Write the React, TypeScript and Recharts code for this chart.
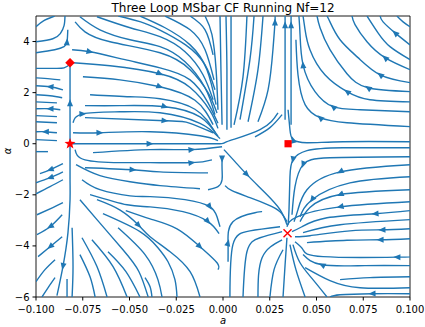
import { ComposedChart, Line, Scatter, XAxis, YAxis, ReferenceArea } from "recharts";

type Stream = { p: number[][]; ar: number[] };

// streamlines left of the a = -0.082 separatrix (flow goes left / down-left)
const LEFT: Stream[] = [
  { p: [[-0.1, 4.58], [-0.096, 4.81], [-0.09, 5.0]], ar: [] },
  { p: [[-0.1, 3.99], [-0.091, 4.11], [-0.087, 4.31], [-0.085, 4.62], [-0.0845, 5.0]], ar: [] },
  { p: [[-0.1, 3.56], [-0.09, 3.68], [-0.085, 3.8], [-0.0834, 3.99], [-0.083, 4.46]], ar: [3] },
  { p: [[-0.0818, 3.1], [-0.085, 2.97], [-0.09, 2.95], [-0.1, 2.95]], ar: [] },
  { p: [[-0.087, 2.5], [-0.0925, 2.54], [-0.1, 2.58]], ar: [] },
  { p: [[-0.0856, 2.11], [-0.0925, 2.23], [-0.1, 2.27]], ar: [1] },
  { p: [[-0.086, 1.8], [-0.0925, 1.88], [-0.1, 1.92]], ar: [] },
  { p: [[-0.0888, 1.6], [-0.1, 1.64]], ar: [] },
  { p: [[-0.087, 1.33], [-0.0925, 1.37], [-0.1, 1.37]], ar: [1] },
  { p: [[-0.0888, 1.06], [-0.1, 1.1]], ar: [] },
  { p: [[-0.0888, 0.82], [-0.1, 0.86]], ar: [] },
  { p: [[-0.0888, 0.43], [-0.095, 0.47], [-0.1, 0.47]], ar: [1] },
  { p: [[-0.0888, 0.12], [-0.1, 0.16]], ar: [] },
  { p: [[-0.0936, -0.31], [-0.1, -0.31]], ar: [] },
  { p: [[-0.0856, -0.78], [-0.0925, -1.02], [-0.0979, -1.17]], ar: [1] },
  { p: [[-0.0856, -1.1], [-0.0925, -1.33], [-0.1, -1.53]], ar: [1] },
  { p: [[-0.0856, -1.41], [-0.0925, -1.68], [-0.1, -1.96]], ar: [] },
  { p: [[-0.0856, -2.31], [-0.091, -2.5], [-0.0995, -2.78]], ar: [] },
  { p: [[-0.086, -2.78], [-0.0925, -3.25], [-0.0995, -3.56]], ar: [1] },
  { p: [[-0.086, -3.64], [-0.0925, -4.03], [-0.0989, -4.42]], ar: [1] },
  { p: [[-0.0898, -4.54], [-0.0952, -4.93], [-0.1, -5.4]], ar: [] },
  { p: [[-0.0898, -5.24], [-0.0936, -5.64], [-0.0968, -6]], ar: [] },
];

// the separatrix itself and its neighbours
const SEPARATRIX: Stream[] = [
  { p: [[-0.0818, 0], [-0.0818, 0.9], [-0.0818, 1.6], [-0.0818, 2.4], [-0.0818, 3.1]], ar: [2] },
  { p: [[-0.0818, 0], [-0.0818, -1.41], [-0.0818, -2.19], [-0.0829, -3.48], [-0.0856, -4.81], [-0.0888, -5.95]], ar: [4] },
  { p: [[-0.0807, -3.29], [-0.0802, -4.81], [-0.0807, -6]], ar: [] },
  { p: [[-0.0834, -5.3], [-0.0834, -6]], ar: [] },
];

// upper middle: lines sweeping into the origin
const UPPER: Stream[] = [
  { p: [[-0.056, 5], [-0.044, 4.77], [-0.034, 4.46], [-0.02, 3.87], [-0.0096, 3.09], [-0.0043, 2.11]], ar: [] },
  { p: [[-0.0674, 4.97], [-0.0497, 4.54], [-0.0337, 4.19], [-0.0203, 3.6], [-0.0107, 2.7], [-0.0053, 1.72]], ar: [] },
  { p: [[-0.0765, 4.97], [-0.0658, 4.46], [-0.0497, 4.07], [-0.0337, 3.8], [-0.0203, 3.21], [-0.0096, 2.19], [-0.0043, 1.14]], ar: [] },
  { p: [[-0.0791, 4.77], [-0.0738, 4.38], [-0.0604, 3.99], [-0.0337, 3.56], [-0.0176, 2.9], [-0.008, 2.0], [-0.0032, 1.2]], ar: [] },
  { p: [[-0.0444, 5], [-0.031, 4.54], [-0.0176, 3.87], [-0.0086, 2.9], [-0.0037, 1.53]], ar: [] },
  { p: [[-0.031, 5], [-0.0176, 4.46], [-0.0096, 3.68], [-0.0048, 2.5]], ar: [] },
  { p: [[-0.0176, 5], [-0.0096, 4.46], [-0.0053, 3.48]], ar: [] },
  { p: [[-0.0096, 5], [-0.0059, 4.27], [-0.0037, 2.9], [-0.0027, 1.33]], ar: [] },
  { p: [[-0.0807, 3.68], [-0.0711, 3.6], [-0.0524, 3.29], [-0.0337, 2.97], [-0.0176, 2.5], [-0.008, 1.6], [-0.0027, 0.8]], ar: [1] },
  { p: [[-0.0802, 3.17], [-0.0604, 3.05], [-0.0337, 2.74], [-0.0176, 2.2], [-0.007, 1.3], [-0.0027, 0.6]], ar: [2] },
  { p: [[-0.0749, 2.62], [-0.0551, 2.5], [-0.0337, 2.23], [-0.015, 1.7], [-0.0053, 0.75]], ar: [2] },
  { p: [[-0.0711, 1.92], [-0.0497, 1.84], [-0.0337, 1.76], [-0.015, 1.35], [-0.0043, 0.45]], ar: [] },
  { p: [[-0.0738, 1.49], [-0.0551, 1.49], [-0.031, 1.45], [-0.0123, 1.05], [-0.0027, 0.3]], ar: [2] },
  { p: [[-0.0802, 0.82], [-0.0749, 1.17], [-0.0551, 1.25], [-0.0337, 1.21], [-0.0123, 0.8], [-0.0016, 0.2]], ar: [1] },
  { p: [[-0.0738, 1.02], [-0.031, 0.9], [-0.0176, 0.8], [-0.0053, 0.43]], ar: [1] },
  { p: [[-0.0802, 0.43], [-0.0658, 0.43], [-0.039, 0.47], [-0.0123, 0.31], [-0.0027, 0.12]], ar: [1] },
  { p: [[-0.0818, 0], [-0.039, 0], [-0.0043, 0], [0.0021, 0.08], [0.0198, 0.55], [0.0294, 1.21]], ar: [1] },
  { p: [[-0.0695, -0.35], [-0.039, -0.23], [-0.0166, -0.23], [-0.0005, -0.12]], ar: [2] },
  { p: [[-0.0791, -0.23], [-0.0738, -0.63], [-0.0551, -0.74], [-0.039, -0.74], [-0.0166, -0.74], [-0.0059, -0.63]], ar: [4] },
  { p: [[-0.0738, -0.94], [-0.0481, -1.02], [-0.0337, -1.1], [-0.008, -1.14]], ar: [1] },
  { p: [[-0.0786, -0.82], [-0.0658, -1.25], [-0.0497, -1.49], [-0.0337, -1.64], [-0.0123, -1.76]], ar: [] },
];

// lines rising from the origin to the top edge
const RISING: Stream[] = [
  { p: [[-0.0005, 0.74], [-0.0011, 2.9], [-0.0016, 5]], ar: [] },
  { p: [[0.0021, 0.55], [0.0021, 2.9], [0.0016, 5]], ar: [] },
  { p: [[0.0043, 0.63], [0.0043, 3.29], [0.0043, 5]], ar: [] },
  { p: [[0.0059, 0.74], [0.0107, 2.62], [0.0128, 5]], ar: [] },
  { p: [[0.0091, 0.94], [0.0144, 3.29], [0.0166, 5]], ar: [] },
  { p: [[0.0134, 0.86], [0.0187, 2.9], [0.0214, 5]], ar: [] },
  { p: [[0.0187, 0.86], [0.0241, 2.11], [0.0267, 3.68], [0.0278, 4.77], [0.0278, 5]], ar: [3] },
  { p: [[0.0332, 0.94], [0.0332, 3.29], [0.0332, 4.66], [0.0332, 5]], ar: [2] },
  { p: [[0.0364, 0.74], [0.0364, 3.29], [0.0364, 4.66], [0.0364, 5]], ar: [2] },
  { p: [[0.0171, 0.27], [0.0251, 0.63], [0.0316, 1.14]], ar: [] },
];

// below the origin
const LOWER: Stream[] = [
  { p: [[-0.0005, -0.6], [-0.0005, -1.0], [-0.0005, -1.41], [-0.0027, -1.68], [-0.008, -1.8]], ar: [0] },
  { p: [[0.0011, -1.64], [0.0048, -1.84], [0.0144, -2.11], [0.0241, -2.39], [0.0305, -2.66], [0.0342, -3.05]], ar: [] },
  { p: [[0.0005, -0.23], [0.0064, -0.7], [0.0128, -1.21], [0.0225, -1.92], [0.0305, -2.58], [0.0342, -3.17]], ar: [2] },
  { p: [[-0.0754, -1.41], [-0.0658, -1.8], [-0.0497, -2.04], [-0.039, -2.07], [-0.0203, -2.19], [-0.007, -2.47], [-0.0032, -2.86], [-0.0016, -3.25]], ar: [5] },
  { p: [[-0.0711, -1.99], [-0.0513, -2.39], [-0.039, -2.47], [-0.0214, -2.66], [-0.008, -3.05], [-0.0021, -3.52]], ar: [4] },
  { p: [[-0.052, -2.62], [-0.039, -2.94], [-0.0246, -3.33], [-0.0123, -4.03], [-0.0032, -4.66], [-0.0027, -4.93]], ar: [3] },
  { p: [[-0.0674, -2.19], [-0.055, -2.6], [-0.045, -3.2], [-0.039, -3.64], [-0.0283, -4.23], [-0.0176, -5.01], [-0.0123, -6]], ar: [2] },
  { p: [[-0.0642, -2.74], [-0.0444, -3.44], [-0.0348, -4.07], [-0.0294, -4.62], [-0.0257, -5.32], [-0.0246, -6]], ar: [] },
  { p: [[-0.0561, -3.29], [-0.0417, -4.34], [-0.0348, -5.32], [-0.0326, -6]], ar: [] },
  { p: [[-0.0765, -2.19], [-0.0674, -2.97], [-0.0535, -4.15], [-0.045, -5.0], [-0.04, -6]], ar: [] },
  { p: [[-0.0615, -4.23], [-0.052, -5.0], [-0.0444, -6]], ar: [] },
  { p: [[-0.0701, -3.76], [-0.0588, -4.81], [-0.0513, -6]], ar: [] },
  { p: [[-0.0754, -3.68], [-0.0674, -4.81], [-0.062, -6]], ar: [] },
  { p: [[-0.0765, -4.34], [-0.0711, -5.21], [-0.0684, -6]], ar: [] },
  { p: [[-0.0417, -5.24], [-0.039, -5.6], [-0.038, -6]], ar: [] },
  { p: [[0.0027, -4.62], [0.0027, -3.87], [0.0053, -3.05], [0.0171, -2.7], [0.0209, -2.66]], ar: [1] },
  { p: [[0.0037, -6], [0.0053, -3.95], [0.0144, -3.41], [0.0305, -3.25]], ar: [] },
  { p: [[0.0107, -6], [0.0128, -4.23], [0.0198, -3.68], [0.0316, -3.44]], ar: [] },
  { p: [[0.0187, -6], [0.0209, -4.46], [0.0316, -3.76]], ar: [] },
  { p: [[0.0251, -6], [0.0273, -4.93], [0.0321, -4.15]], ar: [] },
];

// right side: arcs to the top, lines into the square and the cross
const RIGHT: Stream[] = [
  { p: [[0.1, 4.58], [0.0963, 4.77], [0.093, 5]], ar: [] },
  { p: [[0.1, 3.87], [0.092, 4.34], [0.0856, 4.77], [0.084, 5]], ar: [1] },
  { p: [[0.1, 3.29], [0.0893, 3.8], [0.0829, 4.34], [0.077, 5]], ar: [] },
  { p: [[0.1, 2.9], [0.0866, 3.37], [0.077, 3.99], [0.0706, 4.66], [0.069, 5]], ar: [1] },
  { p: [[0.1, 2.39], [0.084, 2.7], [0.0722, 3.37], [0.0626, 4.07], [0.0572, 4.77], [0.0556, 5]], ar: [1] },
  { p: [[0.1, 2.04], [0.0775, 2.19], [0.0663, 2.74], [0.0572, 3.68], [0.0519, 4.54], [0.0503, 5]], ar: [1] },
  { p: [[0.1, 1.64], [0.0786, 1.72], [0.0663, 2.04], [0.0545, 2.7], [0.0465, 3.68], [0.0439, 4.46], [0.0428, 5]], ar: [2] },
  { p: [[0.1, 1.25], [0.0733, 1.33], [0.0588, 1.45], [0.0492, 2.04], [0.0428, 3.09], [0.0412, 4.27], [0.0406, 5]], ar: [2, 4] },
  { p: [[0.1, 0.67], [0.0663, 0.82], [0.0519, 1.02], [0.0439, 1.53], [0.0401, 2.7], [0.039, 4.07]], ar: [2] },
  { p: [[0.1, 0.08], [0.0642, 0.08], [0.0449, 0.04], [0.0374, 0.16], [0.0358, 0.55], [0.0348, 1.33]], ar: [3] },
  { p: [[0.1, -0.16], [0.0642, -0.16], [0.0449, -0.27], [0.0374, -0.63], [0.0358, -1.29], [0.0353, -2.58], [0.0348, -3.17]], ar: [3] },
  { p: [[0.1, -0.51], [0.0572, -0.55], [0.0428, -0.82], [0.0385, -1.68], [0.0369, -2.78]], ar: [2] },
  { p: [[0.1, -0.82], [0.0626, -1.1], [0.0449, -1.8], [0.0401, -2.58], [0.038, -3.05]], ar: [1] },
  { p: [[0.1, -1.29], [0.0679, -1.53], [0.0476, -2.19], [0.0412, -2.86]], ar: [2] },
  { p: [[0.1, -1.8], [0.0626, -1.99], [0.0465, -2.5], [0.0412, -3.05]], ar: [1] },
  { p: [[0.1, -2.27], [0.0626, -2.47], [0.0396, -2.86], [0.0342, -3.25]], ar: [1] },
  { p: [[0.1, -2.62], [0.0813, -2.74], [0.0556, -2.9], [0.0422, -3.25], [0.0369, -3.44]], ar: [1] },
  { p: [[0.1, -2.97], [0.0626, -3.17], [0.0428, -3.48]], ar: [] },
  { p: [[0.1, -3.33], [0.085, -3.37], [0.0679, -3.41], [0.0465, -3.6], [0.0385, -3.64]], ar: [1] },
  { p: [[0.1, -3.72], [0.084, -3.76], [0.0663, -3.78], [0.0449, -3.87]], ar: [1] },
  { p: [[0.1, -4.42], [0.093, -4.44], [0.0535, -4.42], [0.0428, -4.15], [0.0385, -3.84]], ar: [1] },
  { p: [[0.1, -4.77], [0.0759, -4.77], [0.0529, -4.74], [0.0428, -4.34]], ar: [2] },
  { p: [[0.1, -5.21], [0.0786, -5.24], [0.0626, -5.32]], ar: [] },
  { p: [[0.1, -5.64], [0.0733, -5.64], [0.0572, -5.36], [0.0439, -4.85]], ar: [] },
  { p: [[0.1, -5.87], [0.0797, -5.87], [0.0626, -5.91], [0.0572, -6]], ar: [1] },
  { p: [[0.0374, -3.95], [0.0412, -4.66], [0.0481, -5.32], [0.0556, -6]], ar: [] },
  { p: [[0.0358, -3.95], [0.039, -4.93], [0.0439, -6]], ar: [] },
  { p: [[0.0342, -3.68], [0.0332, -4.74], [0.0321, -6]], ar: [] },
];

const X_TICKS = [-0.1, -0.075, -0.05, -0.025, 0, 0.025, 0.05, 0.075, 0.1];
const Y_TICKS = [-6, -4, -2, 0, 2, 4];

const FIXED_POINTS = [
  { a: -0.0818, alpha: 3.17, kind: "diamond" },
  { a: -0.0818, alpha: 0, kind: "star" },
  { a: 0.0348, alpha: 0, kind: "square" },
  { a: 0.0345, alpha: -3.5, kind: "x" },
];

const W = 425;
const H = 327;
const MARGIN = { top: 16, right: 15, bottom: 0, left: 0 };
const Y_W = 36;
const X_H = 30;
const KX = (W - MARGIN.left - MARGIN.right - Y_W) / 0.2;
const KY = (H - MARGIN.top - MARGIN.bottom - X_H) / 11;
const BLUE = "#1f77b4";
const RED = "#ff0000";

const streams = [...LEFT, ...SEPARATRIX, ...UPPER, ...RISING, ...LOWER, ...RIGHT];

const arrows = streams.flatMap((s) =>
  s.ar.map((i) => {
    const p = s.p[i];
    const q = s.p[Math.min(i + 1, s.p.length - 1)];
    const ang = (Math.atan2(-(q[1] - p[1]) * KY, (q[0] - p[0]) * KX) * 180) / Math.PI;
    return { a: p[0], alpha: p[1], ang };
  })
);

const ArrowHead = (props: any) => {
  const { cx, cy, payload } = props;
  if (cx == null || cy == null) return null;
  return (
    <path
      d="M3.5,0 L-3.5,-3 L-3.5,3 Z"
      transform={`translate(${cx},${cy}) rotate(${payload.ang})`}
      fill={BLUE}
    />
  );
};

const Marker = (props: any) => {
  const { cx, cy, payload } = props;
  if (cx == null || cy == null) return null;
  if (payload.kind === "diamond") {
    return <path d={`M${cx},${cy - 4.8} L${cx + 4.8},${cy} L${cx},${cy + 4.8} L${cx - 4.8},${cy} Z`} fill={RED} />;
  }
  if (payload.kind === "star") {
    const pts: string[] = [];
    for (let k = 0; k < 10; k++) {
      const r = k % 2 === 0 ? 5.8 : 2.4;
      const t = (Math.PI / 5) * k - Math.PI / 2;
      pts.push(`${cx + r * Math.cos(t)},${cy + r * Math.sin(t)}`);
    }
    return <polygon points={pts.join(" ")} fill={RED} />;
  }
  if (payload.kind === "square") {
    return <rect x={cx - 3.6} y={cy - 3.6} width={7.2} height={7.2} fill={RED} />;
  }
  return (
    <path
      d={`M${cx - 4},${cy - 4} L${cx + 4},${cy + 4} M${cx - 4},${cy + 4} L${cx + 4},${cy - 4}`}
      stroke={RED}
      strokeWidth={1.4}
    />
  );
};

const fmtX = (v: number) => v.toFixed(3).replace("-", "\u2212");
const fmtY = (v: number) => String(v).replace("-", "\u2212");

const tickStyle = { fontSize: 10, fill: "#000", fontFamily: "DejaVu Sans" };

export default function App() {
  return (
    <div
      style={{
        position: "absolute",
        left: 0,
        top: 0,
        width: W,
        height: H,
        background: "#fff",
        fontFamily: "DejaVu Sans",
      }}
    >
      <ComposedChart width={W} height={H} margin={MARGIN}>
        <XAxis
          type="number"
          dataKey="a"
          domain={[-0.1, 0.1]}
          ticks={X_TICKS}
          tickFormatter={fmtX}
          allowDataOverflow
          height={X_H}
          tick={tickStyle}
          tickLine={{ stroke: "#000" }}
          axisLine={false}
          tickSize={3.5}
          tickMargin={5}
          interval={0}
        />
        <YAxis
          type="number"
          dataKey="alpha"
          domain={[-6, 5]}
          ticks={Y_TICKS}
          tickFormatter={fmtY}
          allowDataOverflow
          width={Y_W}
          tick={tickStyle}
          tickLine={{ stroke: "#000" }}
          axisLine={false}
          tickSize={3.5}
          tickMargin={3}
          interval={0}
        />
        {streams.map((s, i) => (
          <Line
            key={i}
            data={s.p.map(([a, alpha]) => ({ a, alpha }))}
            dataKey="alpha"
            type="natural"
            stroke={BLUE}
            strokeWidth={1.4}
            dot={false}
            activeDot={false}
            isAnimationActive={false}
          />
        ))}
        <Scatter data={arrows} dataKey="alpha" shape={ArrowHead} isAnimationActive={false} />
        <Scatter data={FIXED_POINTS} dataKey="alpha" shape={Marker} isAnimationActive={false} />
        <ReferenceArea
          x1={-0.1}
          x2={0.1}
          y1={-6}
          y2={5}
          fill="none"
          fillOpacity={0}
          stroke="#000"
          strokeWidth={0.9}
          ifOverflow="visible"
        />
      </ComposedChart>
      <div
        style={{
          position: "absolute",
          left: 0,
          width: 446,
          top: 1.5,
          textAlign: "center",
          fontSize: 12,
          lineHeight: "12px",
          color: "#000",
        }}
      >
        Three Loop MSbar CF Running Nf=12
      </div>
      <div
        style={{
          position: "absolute",
          left: 0,
          width: 446,
          top: 316,
          textAlign: "center",
          fontSize: 10,
          lineHeight: "10px",
          fontStyle: "italic",
        }}
      >
        a
      </div>
      <div
        style={{
          position: "absolute",
          left: -12,
          top: 146,
          width: 40,
          textAlign: "center",
          fontSize: 10,
          lineHeight: "10px",
          fontStyle: "italic",
          transform: "rotate(-90deg)",
        }}
      >
        α
      </div>
    </div>
  );
}
